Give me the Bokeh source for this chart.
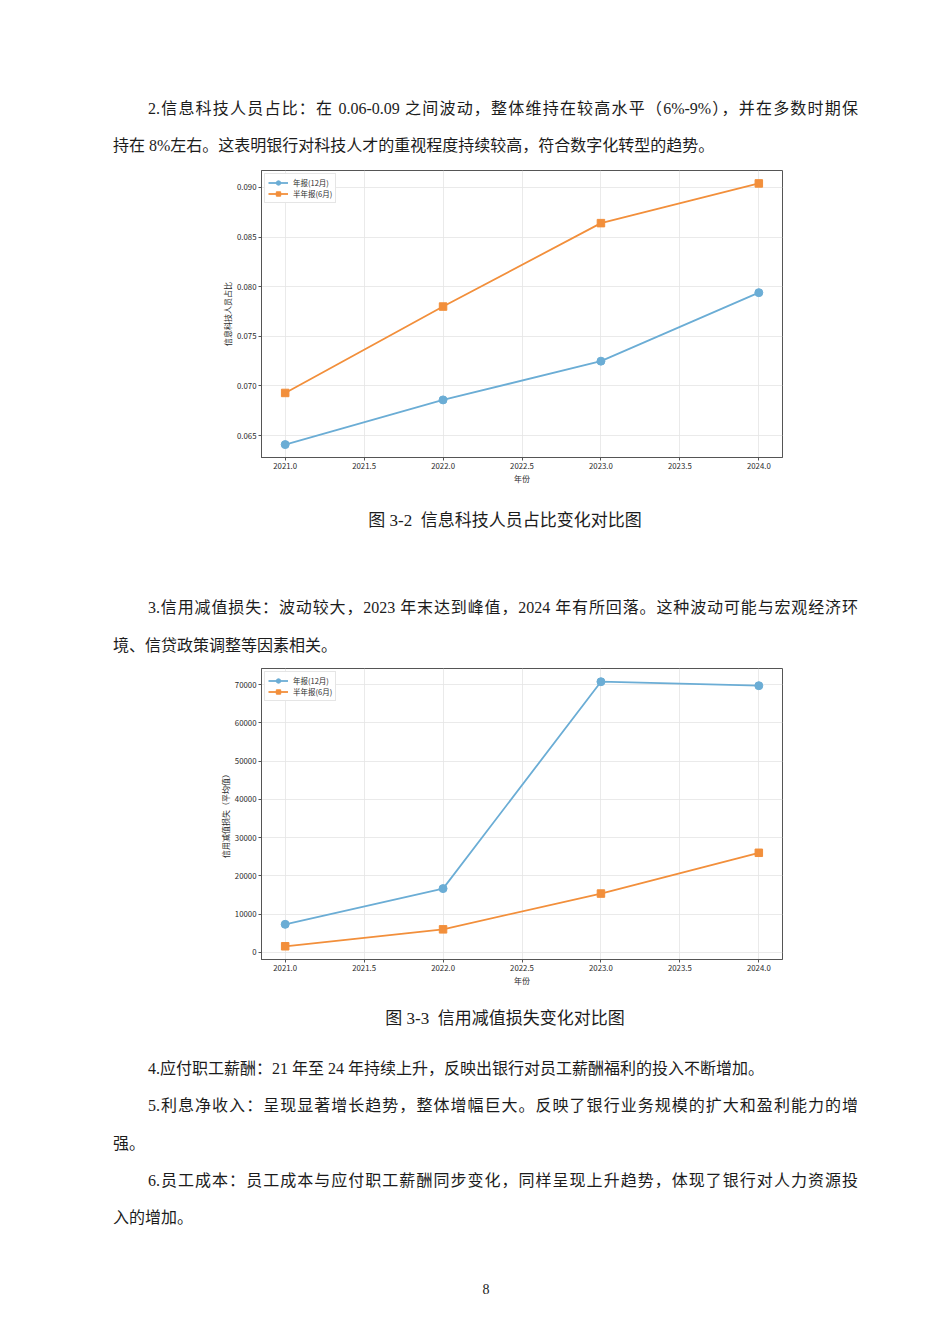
from bokeh.plotting import figure
from bokeh.layouts import column
from bokeh.models import Range1d, FixedTicker, NumeralTickFormatter, Div
from bokeh.embed import file_html
from bokeh.resources import INLINE

# chart data
years = [2021, 2022, 2023, 2024]
series_names = ["年报(12月)", "半年报(6月)"]
tech_annual = [0.0641, 0.0686, 0.0725, 0.0794]
tech_half = [0.0693, 0.0780, 0.0864, 0.0904]
loss_annual = [7300, 16650, 70780, 69740]
loss_half = [1560, 5990, 15350, 26020]
x_ticks = [2021.0, 2021.5, 2022.0, 2022.5, 2023.0, 2023.5, 2024.0]
tech_ticks = [0.065, 0.070, 0.075, 0.080, 0.085, 0.090]
loss_ticks = [0, 10000, 20000, 30000, 40000, 50000, 60000, 70000]

# page text
para2 = ["2.信息科技人员占比：在 0.06-0.09 之间波动，整体维持在较高水平（6%-9%），并在多数时期保",
         "持在 8%左右。这表明银行对科技人才的重视程度持续较高，符合数字化转型的趋势。"]
cap2 = "图 3-2&nbsp; 信息科技人员占比变化对比图"
para3 = ["3.信用减值损失：波动较大，2023 年末达到峰值，2024 年有所回落。这种波动可能与宏观经济环",
         "境、信贷政策调整等因素相关。"]
cap3 = "图 3-3&nbsp; 信用减值损失变化对比图"
para4 = ["4.应付职工薪酬：21 年至 24 年持续上升，反映出银行对员工薪酬福利的投入不断增加。"]
para5 = ["5.利息净收入：呈现显著增长趋势，整体增幅巨大。反映了银行业务规模的扩大和盈利能力的增",
         "强。"]
para6 = ["6.员工成本：员工成本与应付职工薪酬同步变化，同样呈现上升趋势，体现了银行对人力资源投",
         "入的增加。"]
page_no = "8"

FONT = "Noto Sans CJK SC"
BODY_FONT = "'Liberation Serif', 'Noto Sans CJK SC'"
BLUE = "#6badd5"
ORANGE = "#f28f3b"
W = 950
RIGHT = 858


def text_block(top, bottom, items):
    spans = []
    for x, y, t, size, mode in items:
        st = ("position:absolute;top:%dpx;height:22px;line-height:22px;white-space:nowrap;"
              "font-size:%s;" % (y - top - 11, size))
        if mode == "center":
            st += "left:%dpx;width:400px;text-align:center;" % (x - 200)
        elif mode == "justify":
            st += "left:%dpx;width:%dpx;text-align:justify;text-align-last:justify;" % (x, RIGHT - x)
        else:
            st += "left:%dpx;" % x
        spans.append('<div style="%s">%s</div>' % (st, t))
    html = ('<div style="position:relative;width:%dpx;height:%dpx;font-family:%s;color:#1c1c1c;">%s</div>'
            % (W, bottom - top, BODY_FONT, "".join(spans)))
    return Div(text=html, width=W, height=bottom - top, margin=0)


def para(lines, y0, step=37.5):
    out = []
    for i, t in enumerate(lines):
        x = 148 if i == 0 else 113
        mode = "justify" if i < len(lines) - 1 else "left"
        out.append((x, round(y0 + i * step), t, "16px", mode))
    return out


def chart(top, bottom, fl, fr, ft, fb, yr, yticks, yfmt, ylabel, s1, s2):
    p = figure(width=W, height=bottom - top, x_range=Range1d(2020.85, 2024.15),
               y_range=Range1d(*yr), output_backend="svg", toolbar_location=None,
               min_border_left=fl, min_border_right=W - fr,
               min_border_top=ft - top, min_border_bottom=bottom - fb, margin=0)
    p.outline_line_color = "#555555"
    p.outline_line_width = 1
    p.grid.grid_line_color = "#e4e4e4"
    p.grid.grid_line_width = 0.8
    p.xaxis.ticker = FixedTicker(ticks=x_ticks)
    p.xaxis.formatter = NumeralTickFormatter(format="0.0")
    p.yaxis.ticker = FixedTicker(ticks=yticks)
    p.yaxis.formatter = NumeralTickFormatter(format=yfmt)
    for ax in p.axis:
        ax.axis_line_color = "#555555"
        ax.major_tick_line_color = "#555555"
        ax.major_tick_out = 3
        ax.major_tick_in = 0
        ax.minor_tick_line_color = None
        ax.major_label_text_font = FONT
        ax.major_label_text_font_size = "7.8px"
        ax.major_label_text_color = "#2b2b2b"
        ax.major_label_standoff = 2
        ax.axis_label_text_font = FONT
        ax.axis_label_text_font_size = "8px"
        ax.axis_label_text_font_style = "normal"
        ax.axis_label_text_color = "#2b2b2b"
        ax.axis_label_standoff = 1
    p.xaxis.axis_label = "年份"
    p.yaxis.axis_label = ylabel

    p.line(years, s1, line_color=BLUE, line_width=1.8, legend_label=series_names[0])
    p.scatter(years, s1, marker="circle", size=8, fill_color=BLUE, line_color=BLUE,
              legend_label=series_names[0])
    p.line(years, s2, line_color=ORANGE, line_width=1.8, legend_label=series_names[1])
    p.scatter(years, s2, marker="square", size=7.5, fill_color=ORANGE, line_color=ORANGE,
              legend_label=series_names[1])

    lg = p.legend[0]
    lg.location = "top_left"
    lg.margin = 3
    lg.padding = 3
    lg.spacing = 0
    lg.label_text_font = FONT
    lg.label_text_font_size = "7.5px"
    lg.label_text_color = "#2b2b2b"
    lg.label_height = 11
    lg.glyph_height = 11
    lg.glyph_width = 20
    lg.label_standoff = 5
    lg.border_line_color = "#cccccc"
    lg.border_line_width = 0.8
    return p


txt1 = text_block(0, 166, para(para2, 109))
ch1 = chart(166, 486, 261, 782, 170, 459, (0.0628, 0.0917), tech_ticks, "0.000",
            "信息科技人员占比", tech_annual, tech_half)
txt2 = text_block(486, 664, [(505, 521, cap2, "17px", "center")] + para(para3, 608))
ch2 = chart(664, 988, 260, 785, 668, 960, (-1900, 74240), loss_ticks, "0",
            "信用减值损失（平均值）", loss_annual, loss_half)
txt3 = text_block(988, 1344,
                  [(505, 1019, cap3, "17px", "center")]
                  + para(para4, 1069) + para(para5, 1106) + para(para6, 1181)
                  + [(486, 1290, page_no, "14px", "center")])

page = column(txt1, ch1, txt2, ch2, txt3, spacing=0)
open("out.html", "w").write(file_html(page, INLINE))
